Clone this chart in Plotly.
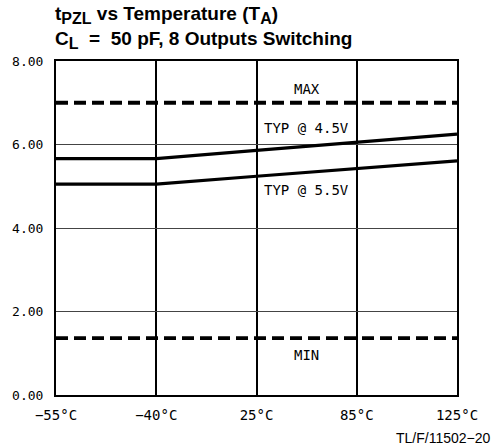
import plotly.graph_objects as go

# ---- data ----
temp_labels = ["\u221255\u00b0C", "\u221240\u00b0C", "25\u00b0C", "85\u00b0C", "125\u00b0C"]
temp_pos = [0, 1, 2, 3, 4]
typ_45v = [5.66, 5.66, 5.86, 6.05, 6.25]
typ_55v = [5.05, 5.05, 5.24, 5.42, 5.61]
max_ns = [7.0, 7.0, 7.0, 7.0, 7.0]
min_ns = [1.36, 1.36, 1.36, 1.36, 1.36]
y_ticks = [0, 2, 4, 6, 8]
y_tick_labels = ["0.00", "2.00", "4.00", "6.00", "8.00"]

mono = "DejaVu Sans Mono"
sans = "Liberation Sans, Arial, sans-serif"

fig = go.Figure()
for vals in (typ_45v, typ_55v):
    fig.add_trace(go.Scatter(x=temp_pos, y=vals, mode="lines",
                             line=dict(color="black", width=3.2), hoverinfo="skip"))
for vals in (max_ns, min_ns):
    fig.add_trace(go.Scatter(x=temp_pos, y=vals, mode="lines",
                             line=dict(color="black", width=3.8, dash="12px,6px"), hoverinfo="skip"))

labels = [("MAX", 7.33), ("TYP @ 4.5V", 6.39), ("TYP @ 5.5V", 4.91), ("MIN", 0.96)]
for txt, yv in labels:
    fig.add_annotation(x=2.5, y=yv, xref="x", yref="y", text=txt, showarrow=False,
                       font=dict(family=mono, size=14, color="black"))

fig.add_annotation(x=1, y=0, xref="paper", yref="paper", xanchor="right", yanchor="top",
                   xshift=36, yshift=-33, text="TL/F/11502\u221220", showarrow=False,
                   font=dict(family=sans, size=14, color="black"))

sub = '<sub><span style="font-size:16px">{}</span></sub>'
title_text = ("<b>t" + sub.format("PZL") + " vs Temperature (T" + sub.format("A") + ")<br>"
              "C" + sub.format("L") + "&nbsp; = &nbsp;50 pF, 8 Outputs Switching</b>")
fig.add_annotation(x=0, y=1, xref="paper", yref="paper", xanchor="left", yanchor="bottom",
                   xshift=-3, yshift=7, align="left", showarrow=False,
                   text=title_text,
                   font=dict(family=sans, size=19, color="black"))

fig.update_layout(
    width=496, height=448,
    margin=dict(l=54, r=39, t=61, b=53),
    paper_bgcolor="white", plot_bgcolor="white",
    showlegend=False,
    xaxis=dict(range=[0, 4], tickvals=temp_pos, ticktext=temp_labels,
               showgrid=True, gridcolor="black", gridwidth=1.5,
               showline=True, linecolor="black", linewidth=2, mirror=True,
               ticks="", ticklabelstandoff=6, zeroline=False,
               tickfont=dict(family=mono, size=14, color="black"), fixedrange=True),
    yaxis=dict(range=[0, 8], tickvals=y_ticks, ticktext=y_tick_labels,
               showgrid=True, gridcolor="#444", gridwidth=1,
               showline=True, linecolor="black", linewidth=2, mirror=True,
               ticks="", ticklabelstandoff=8, zeroline=False,
               tickfont=dict(family=mono, size=13, color="black"), fixedrange=True),
)

fig.write_html("out.html", config={"displayModeBar": False},
               post_script="document.body.style.margin='0';")
